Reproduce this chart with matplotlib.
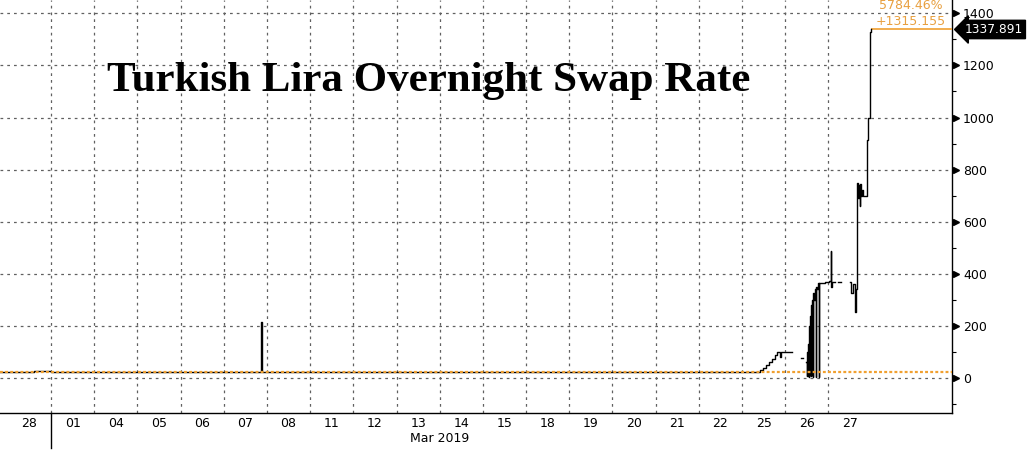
import numpy as np
import matplotlib
matplotlib.use("Agg")
import matplotlib.pyplot as plt
from matplotlib.transforms import blended_transform_factory

# ---------------- data ----------------
day_labels = ["28", "01", "04", "05", "06", "07", "08", "11", "12", "13", "14",
              "15", "18", "19", "20", "21", "22", "25", "26", "27"]
month_label = "Mar 2019"

# time in trading-day units (day k spans [k, k+1]); NaN = gap in the line
t = [-0.18, 0.6, 1.0, 1.5, 2.0, 2.6, 3.0, 4.0, 5.0, 5.84, 5.86, 5.88, 6.5, 7.0,
     8.0, 9.0, 10.0, 11.0, 12.0, 13.0, 14.0, 15.0, 16.0, 17.0,
     17.41, 17.48, 17.55, 17.62, 17.69, 17.76, 17.81, 17.88, 17.90, 18.15,
     18.16, 18.36, 18.41, 18.42,
     18.48, 18.50, 18.51, 18.52, 18.53, 18.55, 18.56, 18.57, 18.58, 18.59,
     18.60, 18.62, 18.63, 18.64, 18.65, 18.66, 18.69, 18.71, 18.72, 18.73,
     18.76, 18.78, 18.79, 18.92,
     19.01, 19.06, 19.065, 19.08, 19.13, 19.14, 19.22, 19.29, 19.30,
     19.50, 19.52, 19.54, 19.57, 19.61, 19.63, 19.66, 19.68, 19.70, 19.72,
     19.73, 19.75, 19.77, 19.80, 19.84, 19.87, 19.89, 19.91, 19.94, 19.96, 19.98]
v = [22.7, 26, 24, 25, 24, 23, 24, 23, 23, 23, 214, 23, 23, 22,
     23, 23, 22, 23, 23, 22, 23, 22, 23, 23,
     30, 40, 50, 62, 75, 88, 100, 80, 100, 100,
     np.nan, 78, 78, np.nan,
     60, 8, 100, 8, 130, 5, 200, 10, 240, 8,
     280, 10, 300, 5, 325, 300, 342, 5, 350, 340,
     365, 5, 365, 368,
     372, 488, 348, 370, 370, np.nan, 368, 368, np.nan,
     367, 328, 328, 360, 252, 340, 750, 690, 740, 660,
     745, 700, 720, 700, 697, 697, 913, 1000, 1000, 1330, 1337.891]

last_value = 1337.891
first_value = 22.736
pct_change = "5784.46%"
abs_change = "+1315.155"

# ---------------- figure ----------------
W, H = 1029, 451
fig = plt.figure(figsize=(W / 100, H / 100), dpi=100)
ax = fig.add_axes([0, (451 - 413) / 451, 952 / 1029, 413 / 451])

x0, x1 = -0.18, 21.86
y0, y1 = -134, 1451
ax.set_xlim(x0, x1)
ax.set_ylim(y0, y1)

grid_kw = dict(color="#606060", lw=0.9, ls=(0, (2.2, 3.2)), zorder=1)
for k in range(1, len(day_labels)):
    ax.axvline(k, **grid_kw)
for yv in range(0, 1401, 200):
    ax.axhline(yv, **grid_kw)

ax.plot(t, v, color="black", lw=1.0, drawstyle="steps-post", zorder=4)

# baseline reference (first value) dotted orange, on top of the price line
ax.axhline(first_value, color="#f0a030", lw=1.6, ls=(0, (1.3, 1.0)), zorder=5)

# last value orange line
ax.plot([t[-1], x1], [last_value, last_value], color="#f0a030", lw=1.2, zorder=3,
        solid_capstyle="butt")

# spines
for s in ["top", "left"]:
    ax.spines[s].set_visible(False)
ax.spines["right"].set_linewidth(1.0)
ax.spines["bottom"].set_linewidth(1.0)

# y axis on right
ax.yaxis.tick_right()
ax.set_yticks(range(0, 1401, 200))
ax.set_yticklabels([str(x) for x in range(0, 1401, 200)], fontsize=9)
ax.set_yticks(range(-100, 1401, 200), minor=True)
ax.tick_params(axis="y", which="major", length=0, pad=8)
ax.tick_params(axis="y", which="minor", length=3, width=0.8, direction="out")
trans_y = blended_transform_factory(ax.transAxes, ax.transData)
ax.plot([1.004] * 8, list(range(0, 1401, 200)), marker=">", ms=4.5, color="black",
        ls="none", transform=trans_y, clip_on=False)

# x axis labels at day centers
ax.set_xticks([k + 0.5 for k in range(len(day_labels))])
ax.set_xticklabels(day_labels, fontsize=9)
ax.tick_params(axis="x", length=0, pad=3)

# month label and separator
trans_x = blended_transform_factory(ax.transData, ax.transAxes)
ax.text(10.0, -0.047, month_label, transform=trans_x, ha="center", va="top",
        fontsize=9)
ax.plot([1, 1], [0, -0.085], color="black", lw=1.0, transform=trans_x,
        clip_on=False)

# last value box
ax.annotate(f"{last_value:.3f}", xy=(1.0, last_value), xycoords=trans_y,
            xytext=(9, 0), textcoords="offset points", ha="left", va="center",
            fontsize=8.8, color="white",
            bbox=dict(boxstyle="larrow,pad=0.22", fc="black", ec="black"),
            annotation_clip=False)

# change texts
ax.text(20.9, 1428, pct_change, ha="center", va="center", fontsize=9,
        color="#e8a040", clip_on=False)
ax.text(20.9, 1368, abs_change, ha="center", va="center", fontsize=9,
        color="#e8a040", clip_on=False)

# title
ax.text(9.75, 1140, "Turkish Lira Overnight Swap Rate", ha="center",
        va="center", fontsize=31, fontweight="bold", family="Liberation Serif",
        color="black")

fig.savefig("out.png", dpi=100)
